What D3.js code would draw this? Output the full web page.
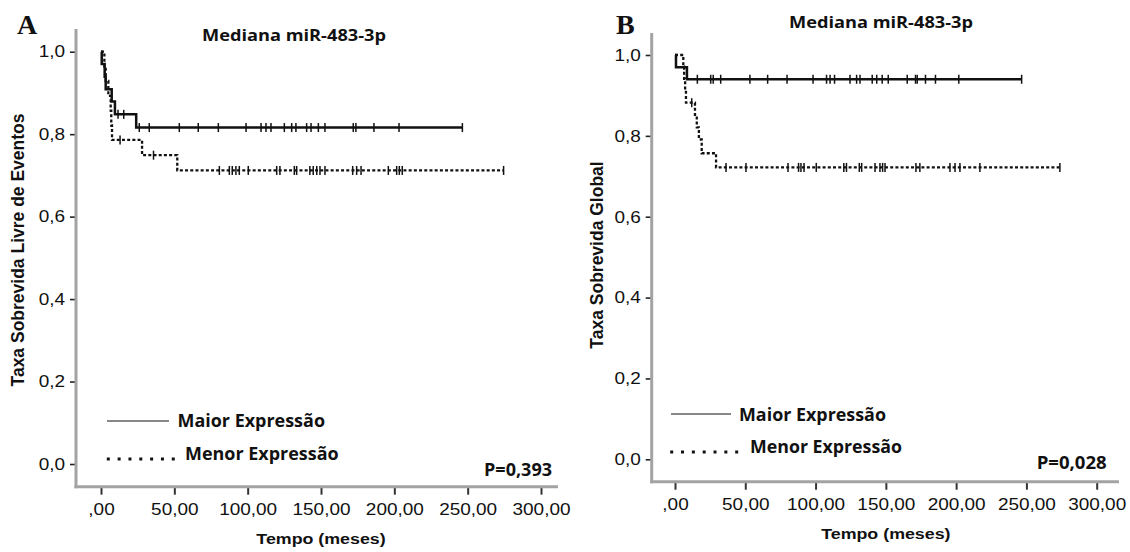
<!DOCTYPE html>
<html>
<head>
<meta charset="utf-8">
<script src="https://cdn.jsdelivr.net/npm/d3@7"></script>
<style>
  html, body { margin: 0; padding: 0; background: #fff; }
  svg { display: block; }
</style>
</head>
<body>
<svg id="chart" width="1130" height="552"></svg>
<script>
// ---- shared axis ticks ----
const timeTicks = [0, 50, 100, 150, 200, 250, 300];
const timeTickLabels = [",00", "50,00", "100,00", "150,00", "200,00", "250,00", "300,00"];
const rateTicks = [0, 0.2, 0.4, 0.6, 0.8, 1.0];
const rateTickLabels = ["0,0", "0,2", "0,4", "0,6", "0,8", "1,0"];

const groupNames = ["Maior Expressão", "Menor Expressão"];

// ---- A: sobrevida livre de eventos ----
const efsMaiorTimes = [0, 0.5, 2.5, 3.2, 7.3, 9.5, 24, 246.4];
const efsMaiorSurv  = [1, 0.970, 0.939, 0.909, 0.879, 0.848, 0.816, 0.816];
const efsMaiorCensored = [11.6, 15.5, 26.1, 32.9, 53.4, 66.3, 80.0, 98.9, 109.1, 112.5, 115.9,
  125.0, 130.0, 132.9, 140.2, 143.2, 148.2, 152.7, 172.0, 173.8, 186.1, 203.2, 246.4];

const efsMenorTimes = [0, 2.3, 3.2, 5.0, 6.6, 7.0, 7.5, 28, 52, 274.5];
const efsMenorSurv  = [1, 0.964, 0.929, 0.893, 0.857, 0.821, 0.786, 0.749, 0.712, 0.712];
const efsMenorCensored = [13, 35.8, 80.7, 87.5, 89.5, 92.0, 94.3, 100.4, 119.8, 122.0, 131.8,
  133.4, 142.4, 144.7, 147.1, 149.3, 152.7, 171.6, 174.3, 177.3, 195.9, 201.6, 203.4, 205.4, 274.5];

// ---- B: sobrevida global ----
const osMaiorTimes = [0, 0.7, 8.5, 246.6];
const osMaiorSurv  = [1, 0.970, 0.940, 0.940];
const osMaiorCensored = [15.9, 25.4, 27.2, 32.5, 53.3, 65.9, 79.7, 98.2, 107.8, 110.3, 113.5,
  124.5, 129.2, 131.6, 140.3, 143.5, 147.4, 151.7, 165.2, 171.1, 172.3, 178.2, 185.3, 201.9, 246.6];

const osMenorTimes = [0, 5.9, 6.5, 7.2, 7.8, 14.2, 15.5, 17, 19, 29.2, 273.8];
const osMenorSurv  = [1, 0.971, 0.941, 0.912, 0.882, 0.852, 0.821, 0.791, 0.757, 0.722, 0.722];
const osMenorCensored = [11.9, 36.3, 50.5, 80.4, 87.9, 89.6, 91.8, 100.5, 120.1, 122.0, 131.1,
  132.8, 142.3, 145.8, 147.7, 149.4, 171.4, 174.2, 195.6, 199.2, 202.7, 216.9, 273.8];

// ---- layout of the two panels ----
const panels = [
  {
    letter: "A", letterX: 17, letterY: 34,
    title: "Mediana miR-483-3p", titleX: 294, titleY: 41, titleW: 184,
    yLabel: "Taxa Sobrevida Livre de Eventos", yLabelX: 24, yLabelY: 250,
    pText: "P=0,393", pX: 484, pY: 476, pW: 68,
    axisX: 76, axisTop: 29, axisY: 486.7, axisRight: 558,
    xRange: [101, 541], yRange: [464, 51.7],
    legend: { lineX: [107, 169], lineY: 421, t1X: 177.5, t1Y: 427, t1W: 147.5,
              dotsX: [106.8, 176.3], dotsY: 459, t2X: 185, t2Y: 460, t2W: 153.6 },
    series: [
      { times: efsMaiorTimes, surv: efsMaiorSurv, cens: efsMaiorCensored, dashed: false },
      { times: efsMenorTimes, surv: efsMenorSurv, cens: efsMenorCensored, dashed: true }
    ]
  },
  {
    letter: "B", letterX: 616, letterY: 34,
    title: "Mediana miR-483-3p", titleX: 881, titleY: 28, titleW: 184,
    yLabel: "Taxa Sobrevida Global", yLabelX: 603, yLabelY: 255,
    pText: "P=0,028", pX: 1036.7, pY: 469, pW: 70,
    axisX: 651.7, axisTop: 33, axisY: 481.7, axisRight: 1119,
    xRange: [675, 1096.7], yRange: [459.3, 55],
    legend: { lineX: [671, 731], lineY: 414, t1X: 739, t1Y: 421, t1W: 147,
              dotsX: [670.2, 739.7], dotsY: 452, t2X: 750, t2Y: 453, t2W: 152 },
    series: [
      { times: osMaiorTimes, surv: osMaiorSurv, cens: osMaiorCensored, dashed: false },
      { times: osMenorTimes, surv: osMenorSurv, cens: osMenorCensored, dashed: true }
    ]
  }
];

const svg = d3.select("#chart");
const STRETCH = 1.15;          // horizontal stretch of the sans-serif texts
const TICK_FONT = "'Liberation Sans', Arial, sans-serif";
const LABEL_FONT = "'Open Sans', 'Noto Sans', sans-serif";

function fitText(g, str, x, y, width, opts) {
  const t = g.append("text")
    .attr("x", x).attr("y", y)
    .attr("font-family", opts.family)
    .attr("font-size", opts.size)
    .attr("font-weight", opts.weight || 700)
    .attr("fill", "#111")
    .attr("text-anchor", opts.anchor || "start")
    .text(str);
  if (width) t.attr("textLength", width).attr("lengthAdjust", "spacingAndGlyphs");
  return t;
}

panels.forEach(p => {
  const g = svg.append("g");
  const x = d3.scaleLinear().domain([0, 300]).range(p.xRange);
  const y = d3.scaleLinear().domain([0, 1]).range(p.yRange);

  // panel letter
  g.append("text")
    .attr("x", p.letterX).attr("y", p.letterY)
    .attr("font-family", "'Liberation Serif', 'Times New Roman', serif")
    .attr("font-weight", 700).attr("font-size", 28).attr("fill", "#111")
    .text(p.letter);

  // title
  fitText(g, p.title, p.titleX - p.titleW / 2, p.titleY, p.titleW,
    { family: LABEL_FONT, size: 16.5 });

  // x axis ticks and labels
  const xAxis = d3.axisBottom(x)
    .tickValues(timeTicks)
    .tickFormat((d, i) => timeTickLabels[i])
    .tickSizeInner(8).tickSizeOuter(0).tickPadding(9);
  const gx = g.append("g").attr("transform", `translate(0,${p.axisY})`).call(xAxis);
  gx.select(".domain").remove();
  gx.selectAll(".tick line").attr("stroke", "#333").attr("stroke-width", 2);
  gx.selectAll(".tick text")
    .attr("font-family", TICK_FONT).attr("font-size", 16.5).attr("fill", "#111")
    .attr("transform", `scale(${STRETCH},1)`);

  // y axis ticks and labels
  const yAxis = d3.axisLeft(y)
    .tickValues(rateTicks)
    .tickFormat((d, i) => rateTickLabels[i])
    .tickSizeInner(6).tickSizeOuter(0).tickPadding(3.5);
  const gy = g.append("g").attr("transform", `translate(${p.axisX},0)`).call(yAxis);
  gy.select(".domain").remove();
  gy.selectAll(".tick line").attr("stroke", "#222").attr("stroke-width", 1.6);
  gy.selectAll(".tick text")
    .attr("font-family", TICK_FONT).attr("font-size", 16.5).attr("fill", "#111")
    .attr("transform", `scale(${STRETCH},1)`);

  // grey axis frame lines
  g.append("line")
    .attr("x1", p.axisX).attr("x2", p.axisX)
    .attr("y1", p.axisTop).attr("y2", p.axisY + 1.5)
    .attr("stroke", "#a3a3a3").attr("stroke-width", 3);
  g.append("line")
    .attr("x1", p.axisX - 1.5).attr("x2", p.axisRight)
    .attr("y1", p.axisY).attr("y2", p.axisY)
    .attr("stroke", "#a3a3a3").attr("stroke-width", 3);

  // axis titles
  g.append("text")
    .attr("transform", `translate(${(p.xRange[0] + p.xRange[1]) / 2},${p.axisY + 57}) scale(${STRETCH},1)`)
    .attr("text-anchor", "middle")
    .attr("font-family", TICK_FONT).attr("font-weight", 700).attr("font-size", 15.5)
    .attr("fill", "#111")
    .text("Tempo (meses)");
  g.append("text")
    .attr("transform", `translate(${p.yLabelX},${p.yLabelY}) rotate(-90)`)
    .attr("text-anchor", "middle")
    .attr("font-family", TICK_FONT).attr("font-weight", 700).attr("font-size", 17.5)
    .attr("fill", "#111")
    .text(p.yLabel);

  // survival curves (step functions) and censor marks
  p.series.forEach(s => {
    const pts = s.times.map((t, i) => [t, s.surv[i]]);
    const line = d3.line().x(d => x(d[0])).y(d => y(d[1])).curve(d3.curveStepAfter);
    g.append("path")
      .attr("d", line(pts))
      .attr("fill", "none")
      .attr("stroke", "#111")
      .attr("stroke-width", s.dashed ? 2.3 : 2.5)
      .attr("stroke-dasharray", s.dashed ? "3,2.2" : null);

    const level = t => {
      let v = s.surv[0];
      s.times.forEach((tt, i) => { if (tt <= t) v = s.surv[i]; });
      return v;
    };
    g.selectAll(null)
      .data(s.cens)
      .enter().append("line")
      .attr("x1", d => x(d)).attr("x2", d => x(d))
      .attr("y1", d => y(level(d)) - 4.5)
      .attr("y2", d => y(level(d)) + 4.5)
      .attr("stroke", "#111").attr("stroke-width", 1.5);
  });

  // legend
  const L = p.legend;
  g.append("line")
    .attr("x1", L.lineX[0]).attr("x2", L.lineX[1])
    .attr("y1", L.lineY).attr("y2", L.lineY)
    .attr("stroke", "#111").attr("stroke-width", 1.2);
  fitText(g, groupNames[0], L.t1X, L.t1Y, L.t1W, { family: LABEL_FONT, size: 17.5 });
  g.append("line")
    .attr("x1", L.dotsX[0]).attr("x2", L.dotsX[1])
    .attr("y1", L.dotsY).attr("y2", L.dotsY)
    .attr("stroke", "#111").attr("stroke-width", 3)
    .attr("stroke-dasharray", "3,7.83");
  fitText(g, groupNames[1], L.t2X, L.t2Y, L.t2W, { family: LABEL_FONT, size: 17.5 });

  // p-value
  fitText(g, p.pText, p.pX, p.pY, p.pW, { family: LABEL_FONT, size: 17.5 });
});
</script>
</body>
</html>
